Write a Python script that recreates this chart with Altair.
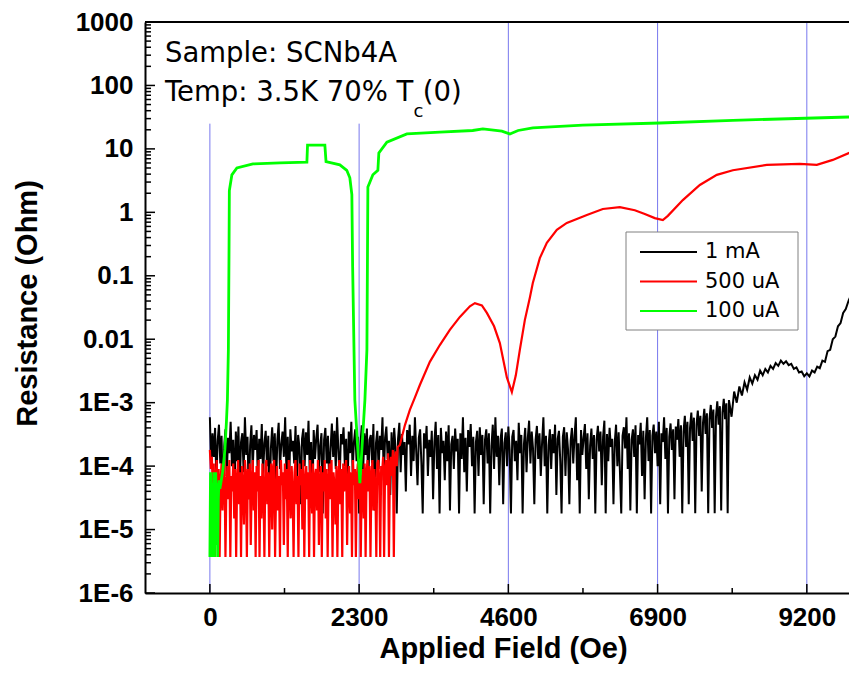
import altair as alt
import pandas as pd

# ---------------- data ----------------
series_names = ["1 mA", "500 uA", "100 uA"]
series_colors = ["#000000", "#ff0000", "#00ff00"]

# 1 mA : noisy floor, field sweep 0..7980 Oe every 20 Oe, values in 1e-5 Ohm
black_noise_start, black_noise_step = 0, 20
black_noise_e5 = [
    59, 9, 33, 14, 40, 6, 25, 45, 11, 30, 2.5, 20, 38, 7, 28, 16, 50, 10, 26, 4,
    35, 12, 42, 5, 24, 33, 8, 59, 15, 29, 3, 21, 44, 9, 31, 18, 37, 6, 27, 13,
    46, 7, 23, 36, 10, 30, 2, 19, 41, 12, 33, 5, 26, 48, 9, 22, 35, 14, 59, 8,
    29, 4, 38, 17, 25, 11, 43, 6, 31, 20, 2.5, 27, 39, 10, 34, 15, 52, 7, 24, 3,
    37, 13, 28, 45, 8, 21, 33, 1.8, 26, 40, 11, 30, 5, 19, 47, 14, 36, 9, 59, 18,
    6, 32, 22, 41, 10, 27, 3, 35, 16, 50, 8, 24, 38, 12, 29, 1.8, 21, 44, 7, 33,
    15, 39, 5, 26, 31, 11, 46, 2, 23, 36, 9, 30, 18, 59, 6, 28, 42, 13, 25, 3.5,
    34, 10, 40, 20, 1.8, 27, 48, 8, 32, 15, 24, 4, 37, 22, 45, 7, 30, 12, 59, 17,
    5, 28, 38, 11, 1.8, 33, 19, 43, 7, 26, 14, 36, 3, 24, 50, 9, 31, 1.8, 40, 16,
    25, 6, 35, 12, 44, 2, 22, 30, 9, 39, 17, 27, 1.8, 33, 13, 59, 8, 28, 4, 37,
    20, 46, 10, 29, 1.8, 24, 36, 7, 41, 15, 31, 2.5, 26, 38, 11, 33, 1.8, 21, 45, 9,
    59, 14, 30, 5, 27, 39, 2.5, 23, 34, 10, 42, 18, 1.8, 29, 37, 12, 25, 6, 48, 16,
    31, 1.8, 22, 40, 8, 28, 52, 11, 35, 19, 2.5, 26, 43, 13, 33, 7, 24, 59, 10, 30,
    1.8, 21, 38, 9, 32, 16, 45, 3.5, 27, 36, 12, 1.8, 29, 41, 7, 34, 18, 2.5, 25, 40,
    11, 30, 59, 6, 23, 1.8, 37, 15, 28, 46, 9, 33, 3, 21, 39, 13, 31, 1.8, 26, 43,
    17, 35, 5, 29, 52, 1.8, 32, 12, 40, 20, 27, 2.5, 24, 45, 10, 34, 8, 1.8, 30, 41,
    19, 59, 9, 33, 2, 26, 38, 14, 44, 1.8, 31, 22, 48, 7, 36, 3, 28, 59, 12, 37,
    1.8, 30, 45, 16, 35, 10, 50, 2.5, 33, 24, 59, 13, 40, 1.8, 29, 47, 18, 38, 3, 42,
    26, 55, 14, 44, 1.8, 35, 62, 20, 50, 2.5, 40, 70, 25, 58, 1.8, 45, 75, 30, 62, 4,
    48, 80, 32, 68, 1.8, 55, 92, 40, 78, 1.8, 60, 105, 45, 88, 2, 70, 115, 55, 98, 1.8,
]
black_tail_field = [8000, 8040, 8080, 8120, 8160, 8200, 8240, 8280, 8320, 8360,
                    8400, 8440, 8480, 8520, 8560, 8600, 8640, 8680, 8720, 8760,
                    8800, 8840, 8880, 8920, 8960, 9000, 9040, 9080, 9120, 9160,
                    9200, 9240, 9280, 9320, 9360, 9400, 9440, 9480, 9520, 9560,
                    9600, 9640, 9680, 9720, 9760, 9800, 9847, 10000]
black_tail_res = [1.1e-3, 6e-4, 1.5e-3, 1.0e-3, 1.8e-3, 1.3e-3, 2.1e-3, 1.6e-3, 2.5e-3, 2.0e-3,
                  2.7e-3, 2.3e-3, 3.2e-3, 2.7e-3, 3.4e-3, 3.0e-3, 3.8e-3, 3.4e-3, 4.2e-3, 3.8e-3,
                  4.6e-3, 4.1e-3, 4.5e-3, 3.9e-3, 4.1e-3, 3.4e-3, 3.6e-3, 3.0e-3, 3.1e-3, 2.6e-3,
                  2.9e-3, 2.6e-3, 3.2e-3, 3.0e-3, 3.7e-3, 3.5e-3, 4.6e-3, 4.4e-3, 6.5e-3, 6.8e-3,
                  1.0e-2, 1.1e-2, 1.6e-2, 1.8e-2, 2.6e-2, 3.0e-2, 4.15e-2, 9e-2]

# 500 uA : noisy floor 0..2895 Oe every 15 Oe, values in 1e-5 Ohm
red_noise_start, red_noise_step = 0, 15
red_noise_e5 = [
    18, 9, 14, 4, 11, 0.37, 7, 12.5, 3, 9, 0.37, 6, 11, 2, 8, 12.5, 0.37, 5, 10, 3,
    12.5, 0.37, 7, 4, 11, 1.5, 9, 0.37, 6, 12.5, 2.5, 8, 0.37, 10, 5, 1.2, 12.5, 7, 0.37, 9,
    3, 11, 0.57, 6, 12.5, 2, 8, 0.37, 10, 4, 12.5, 0.37, 7, 1.5, 11, 5, 0.37, 9, 12.5, 2.5,
    8, 0.37, 6, 11, 1, 9, 12.5, 0.37, 4, 10, 2, 7, 0.37, 12.5, 5, 8, 0.57, 11, 3, 9,
    0.37, 12.5, 6, 1.5, 10, 4, 0.37, 8, 12.5, 2.5, 7, 0.37, 11, 5, 9, 1, 12.5, 0.37, 6, 10,
    3, 8, 0.37, 12.5, 5, 1.8, 11, 0.37, 7, 9, 2, 12.5, 0.57, 6, 10, 0.37, 8, 4, 12.5, 1.5,
    9, 0.37, 6, 11, 3, 12.5, 0.37, 8, 5, 1.2, 10, 0.37, 7, 12.5, 2.5, 9, 0.37, 11, 4, 8,
    12.5, 0.57, 6, 10, 1.8, 8, 0.37, 12.5, 5, 9, 0.37, 7, 11, 3, 12.5, 0.37, 6, 9, 1.5, 11,
    0.37, 8, 12.5, 4, 10, 0.37, 7, 12.5, 2, 9, 5, 0.37, 11, 12.5, 6, 0.37, 10, 8, 14, 0.37,
    9, 12.5, 5, 16, 0.37, 11, 14, 7, 18, 0.37, 13, 17, 10, 20,
]
red_tail_field = [2928, 3005, 3082, 3159, 3236, 3390, 3544, 3698, 3853, 4007,
                  4084, 4192, 4269, 4380, 4469, 4577, 4654, 4715, 4777, 4854,
                  4931, 4977, 5085, 5193, 5347, 5501, 5810, 6056, 6318, 6549,
                  6703, 6857, 6981, 7058, 7289, 7551, 7813, 8060, 8583, 9092,
                  9354, 9600, 9847, 10100]
red_tail_res = [2.15e-4, 4.4e-4, 7.7e-4, 1.2e-3, 1.9e-3, 4.4e-3, 8.1e-3, 0.014, 0.0225, 0.033,
                0.037, 0.034, 0.026, 0.016, 0.0087, 0.0025, 0.00147, 0.0027, 0.0068, 0.020,
                0.045, 0.077, 0.19, 0.33, 0.53, 0.68, 0.91, 1.13, 1.21, 1.08,
                0.94, 0.81, 0.757, 0.88, 1.56, 2.7, 3.9, 4.6, 5.6, 5.8,
                5.6, 6.7, 8.6, 11]

# 100 uA : noisy start 0..140 Oe every 10 Oe, values in 1e-5 Ohm
green_noise_start, green_noise_step = 0, 10
green_noise_e5 = [0.37, 8, 0.57, 5.4, 0.37, 3, 8, 0.37, 1.8, 8, 0.57, 5.4, 0.37, 3, 6]
green_tail_field = [154, 200, 231, 255, 270, 285, 295, 300, 339, 416,
                    663, 1079, 1495, 1505, 1772, 1790, 2003, 2110, 2157, 2188,
                    2200, 2234, 2281, 2312, 2342, 2389, 2420, 2435, 2512, 2589,
                    2604, 2728, 3036, 3544, 4050, 4207, 4500, 4623, 4750, 4977,
                    5748, 6935, 8060, 9847, 10200]
green_tail_res = [4.4e-5, 8.5e-5, 1.8e-4, 5e-4, 1.1e-3, 6.8e-3, 0.25, 2.2, 3.9, 5.0,
                  5.8, 6.0, 6.2, 11.5, 11.5, 6.3, 5.6, 4.6, 3.5, 1.9,
                  0.14, 1.1e-3, 1.8e-4, 5.4e-5, 1.8e-4, 1.1e-3, 6.8e-3, 2.5, 3.9, 4.6,
                  8.6, 12.8, 17.2, 18.4, 19.5, 20.6, 19.0, 17.2, 19.5, 21.4,
                  23.7, 25.6, 28.2, 31.8, 32.5]

# reference lines, axis ticks and labels
guide_fields = [0, 2300, 4600, 6900, 9200]
guide_tops = [25, 25, 1000, 1000, 1000]
x_major = [0, 2300, 4600, 6900, 9200]
x_minor = [1150, 3450, 5750, 8050]
y_major = [1e-6, 1e-5, 1e-4, 1e-3, 1e-2, 1e-1, 1, 10, 100, 1000]
y_labels = ["1E-6", "1E-5", "1E-4", "1E-3", "0.01", "0.1", "1", "10", "100", "1000"]
y_minor = [m * d for d in y_major[:-1] for m in range(2, 10)]

# annotation text
ann_lines = ["Sample: SCNb4A", "Temp: 3.5K 70% T", "(0)"]
ann_sub = ["c"]

# ---------------- build table ----------------
rows = []
def add(name, fields, values):
    for f, v in zip(fields, values):
        rows.append({"series": name, "field": f, "res": v, "idx": len(rows)})

add("1 mA", [black_noise_start + i * black_noise_step for i in range(len(black_noise_e5))],
    [v * 1e-5 for v in black_noise_e5])
add("1 mA", black_tail_field, black_tail_res)
add("500 uA", [red_noise_start + i * red_noise_step for i in range(len(red_noise_e5))],
    [v * 1e-5 for v in red_noise_e5])
add("500 uA", red_tail_field, red_tail_res)
add("100 uA", [green_noise_start + i * green_noise_step for i in range(len(green_noise_e5))],
    [v * 1e-5 for v in green_noise_e5])
add("100 uA", green_tail_field, green_tail_res)
df = pd.DataFrame(rows)

W, H = 704, 571
FONT = "Liberation Sans"
TFONT = "DejaVu Sans"
xscale = alt.Scale(domain=[-1000, 9850], nice=False, zero=False)
yscale = alt.Scale(type="log", domain=[1e-6, 1000], nice=False)
cscale = alt.Scale(domain=series_names, range=series_colors)

label_expr = ""
for v, lab in zip(y_major[:-1], y_labels[:-1]):
    label_expr += f"datum.value < {v * 1.5} ? '{lab}' : "
label_expr += f"'{y_labels[-1]}'"

x_axis = alt.Axis(values=x_major, format="d", ticks=False, grid=False, domainColor="black",
                  domainWidth=2, labelFont=FONT, labelFontSize=26, labelFontWeight="bold",
                  labelColor="black", labelPadding=11, title="Applied Field (Oe)",
                  titleFont=FONT, titleFontSize=29, titleFontWeight="bold", titleColor="black",
                  titleX=358, titleY=64, titleBaseline="alphabetic", titleAlign="center")
y_axis = alt.Axis(values=y_major, labelExpr=label_expr, ticks=False, grid=False,
                  domainColor="black", domainWidth=2, labelFont=FONT, labelFontSize=26,
                  labelFontWeight="bold", labelColor="black", labelPadding=12,
                  title="Resistance (Ohm)", titleFont=FONT, titleFontSize=29,
                  titleFontWeight="bold", titleColor="black", titleAngle=270,
                  titleX=-118, titleY=281, titleAlign="center", titleBaseline="middle")

def X(field):
    return alt.X(field, scale=xscale, axis=x_axis)

def Y(field):
    return alt.Y(field, scale=yscale, axis=y_axis)

guides = alt.Chart(pd.DataFrame({"f": guide_fields, "top": guide_tops, "bot": [1e-6] * 5})).mark_rule(
    color="#7878ee", strokeWidth=1).encode(x=X("f:Q"), y=Y("top:Q"), y2="bot:Q")

def line_layer(name, width):
    return alt.Chart(df).transform_filter(alt.datum.series == name).mark_line(
        strokeWidth=width, clip=True).encode(
        x=X("field:Q"), y=Y("res:Q"),
        color=alt.Color("series:N", scale=cscale, legend=None),
        order="idx:Q")

black = line_layer("1 mA", 2)
red = line_layer("500 uA", 2.2)
green = line_layer("100 uA", 2.8)

def yticks(vals, length):
    return alt.Chart(pd.DataFrame({"v": vals})).mark_rule(color="black", strokeWidth=1.5).encode(
        y=Y("v:Q"), x=alt.value(0), x2=alt.value(length))

def xticks(vals, length):
    return alt.Chart(pd.DataFrame({"v": vals})).mark_rule(color="black", strokeWidth=1.5).encode(
        x=X("v:Q"), y=alt.value(H), y2=alt.value(H - length))

top_frame = alt.Chart(pd.DataFrame({"v": [1000]})).mark_rule(color="black", strokeWidth=2).encode(
    y=Y("v:Q"), x=alt.value(0), x2=alt.value(W))

ann_df = pd.DataFrame({"t": ann_lines, "f": [-693, -693, 3280], "r": [232, 56, 56]})
sub_df = pd.DataFrame({"t": ann_sub, "f": [3140], "r": [32]})
text_main = alt.Chart(ann_df).mark_text(font=TFONT, fontSize=27.5, align="left",
                                         baseline="alphabetic", color="black").encode(
    x=X("f:Q"), y=Y("r:Q"), text="t:N")
text_sub = alt.Chart(sub_df).mark_text(font=TFONT, fontSize=18, align="left",
                                        baseline="alphabetic", color="black").encode(
    x=X("f:Q"), y=Y("r:Q"), text="t:N")

# legend box (drawn by hand so that rows are as tight as in the reference)
one = pd.DataFrame({"a": [0]})
legend_layers = [alt.Chart(one).mark_rect(fill="white", stroke="#808080", strokeWidth=1).encode(
    x=alt.value(481), x2=alt.value(653), y=alt.value(210), y2=alt.value(308))]
for name, col, ly in zip(series_names, series_colors, [230, 259.5, 289]):
    legend_layers.append(alt.Chart(one).mark_rule(strokeWidth=2, color=col).encode(
        x=alt.value(495), x2=alt.value(552), y=alt.value(ly)))
    legend_layers.append(alt.Chart(one).mark_text(font=TFONT, fontSize=21, align="left",
                                                  baseline="middle", color="black").encode(
        x=alt.value(560), y=alt.value(ly), text=alt.value(name)))

chart = alt.layer(
    guides, black, red, green,
    yticks(y_major, 10), yticks(y_minor, 6), xticks(x_major, 9), xticks(x_minor, 5),
    top_frame, text_main, text_sub, *legend_layers,
).properties(
    width=W, height=H,
    autosize=alt.AutoSizeParams(type="none"),
    padding={"left": 145, "top": 22, "right": 0, "bottom": 97},
    background="white",
).configure_view(stroke=None)

chart.save("out.html", embed_options={"renderer": "svg", "actions": False})
